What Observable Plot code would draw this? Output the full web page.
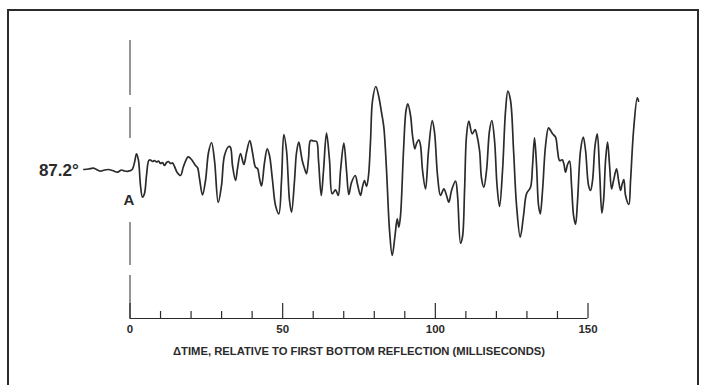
<!DOCTYPE html>
<html>
<head>
<meta charset="utf-8">
<script src="https://cdn.jsdelivr.net/npm/d3@7"></script>
<script src="https://cdn.jsdelivr.net/npm/@observablehq/plot@0.6"></script>
<style>
  html, body { margin: 0; padding: 0; background: #fff; }
  #wrap { position: relative; width: 702px; height: 385px; overflow: hidden; }
  #border { position: absolute; left: 7px; top: 9px; width: 688px; height: 390px;
            border: 2.5px solid #2b2b2b; pointer-events: none; }
  svg text { font-family: "Liberation Sans", Arial, sans-serif; font-weight: bold; }
</style>
</head>
<body>
<div id="wrap"><div id="border"></div></div>
<script>
// Time relative to first bottom reflection (ms)
const times = [-15.13,-13.59,-11.96,-10.65,-9.66,-8.35,-7.04,-5.73,-4.09,-2.78,-1.80,-0.49,
  0.72,1.47,2.13,2.78,3.44,4.09,4.75,5.40,6.16,6.71,7.37,8.02,8.68,9.34,9.99,10.65,11.30,11.96,
  12.61,13.27,13.92,14.58,15.46,16.54,17.52,19.06,20.14,21.45,22.11,22.76,23.75,24.73,25.71,
  26.70,27.68,28.89,29.97,30.95,32.36,32.92,33.57,34.56,35.21,36.19,37.28,38.16,39.24,40.12,
  41.11,41.76,42.42,43.07,44.06,44.94,45.69,46.68,47.66,48.74,49.62,50.38,51.26,52.24,52.90,
  53.88,54.54,55.29,55.85,56.40,57.16,57.81,58.47,59.12,60.11,61.09,61.74,62.63,63.38,64.36,
  65.35,66.23,67.31,68.20,68.95,70.03,70.91,71.67,72.55,73.76,74.52,75.50,76.16,76.81,77.47,
  78.12,78.78,79.43,80.51,81.40,82.38,83.13,84.02,85.00,85.88,86.80,87.52,88.05,88.60,89.58,
  90.40,90.99,91.88,92.53,93.29,93.84,94.60,95.15,95.81,96.79,97.77,98.99,99.74,100.72,101.70,
  102.79,103.67,104.42,105.31,106.62,107.27,108.26,108.91,109.57,110.22,110.97,112.09,113.07,
  113.50,114.48,115.13,115.89,116.77,117.75,118.51,119.39,120.21,121.03,122.01,123.00,123.75,
  124.63,125.62,126.60,127.81,128.89,129.87,131.18,131.84,132.49,133.15,133.80,134.36,135.11,
  136.10,137.08,137.74,138.39,139.37,140.03,140.68,141.57,142.09,142.65,143.30,143.96,144.61,
  145.27,145.92,146.58,147.56,148.45,149.20,150.18,150.84,151.49,152.31,153.03,153.79,154.54,
  155.10,155.75,156.41,157.06,157.72,158.37,159.35,160.01,160.66,161.15,161.74,162.30,163.38,
  163.94,164.92,166.14,166.56];
// Trace amplitude (relative units)
const amps = [1,1.5,2.3,0.5,-0.7,0.5,1,0,-1.7,0.5,-0.5,-0.7,
  1,8,16.7,10,-15,-26.7,-23,-5,10,10.5,9,10,8.5,9.5,7,8,5,8,
  9,7,7.5,4,-2,-5,4,13.7,11,5,3,-8,-24.5,-10,18,
  28,10,-32,-15,15,24,23,5,-10,2,17,6,18,30,18,
  3.3,2,-8,-15.5,8,21.7,15,-10,-35,-43.3,-10,36,20,-30,-41.7,
  -10,18,28.3,20,10,2,-3.3,12,30,29.5,29,10,-25,0,37.3,
  10,-23.3,-19.3,-25,0,27.3,0,-24,-12,-5,-14,-25,-16,-10,-16,
  -5,30,70,84,75,58,43.3,0,-60,-85,-65,-48.3,-56.7,-45,20,
  60,66.7,55,35,21.7,27,30.7,25,0,-18.3,20,50,38,-5,-25,
  -18.3,-25,-31.7,-20,-10.7,-25,-72.7,-66,-20,35,49.3,36.7,41,
  37,20,-8,-16.7,0,40,50,30,-15,-36,0,60,79.3,
  70,20,-35,-66.7,-45,-23.3,-16.7,5,32.7,5,-35,-43.3,-20,
  25,42.7,40,36.7,33.3,20,10,10.7,6.7,-1.7,6,9.3,-15,
  -45,-54,-30,20,33.3,20,-15,-20,-10,25,36.7,0,-42.7,
  -30,10,28.3,5,-18.3,-10,1.7,-10,-20,-14,-9,-25,-34,
  -10,40,72.7,69.3];
const majorTicks = [0, 50, 100, 150];
const minorTicks = [10, 20, 30, 40, 60, 70, 80, 90, 110, 120, 130, 140];
const traceLabel = "87.2°";
const markerLabel = "A";
const xTitle = "ΔTIME, RELATIVE TO FIRST BOTTOM REFLECTION (MILLISECONDS)";

const data = times.map((t, i) => ({t, a: amps[i]}));
const yBase = -148; // amplitude level where the time axis sits

const ink = "#2b2b2b";
const chart = Plot.plot({
  width: 702,
  height: 385,
  marginLeft: 129.5,
  marginRight: 114.5,
  marginTop: 70,
  marginBottom: 67,
  x: {domain: [0, 150], axis: null},
  y: {domain: [yBase, 100], axis: null},
  marks: [
    // dashed reference line at t = 0
    Plot.ruleX([0], {y1: 130, y2: 32, stroke: ink, strokeWidth: 1, strokeDasharray: "55,12"}),
    Plot.ruleX([0], {y1: -52, y2: yBase, stroke: ink, strokeWidth: 1, strokeDasharray: "43,10"}),
    // time axis
    Plot.ruleY([yBase], {x1: 0, x2: 150, stroke: ink, strokeWidth: 1.2}),
    Plot.ruleX(majorTicks, {y1: yBase, y2: yBase + 15, stroke: ink, strokeWidth: 1.2}),
    Plot.ruleX(minorTicks, {y1: yBase, y2: yBase + 7, stroke: ink, strokeWidth: 1.2}),
    Plot.text(majorTicks, {x: d => d, y: yBase, dy: 11, text: d => String(d), fontSize: 11.5, fill: ink, fontWeight: "bold"}),
    Plot.text([xTitle], {x: 75, y: yBase, dy: 33, text: d => d, fontSize: 11, fill: ink, fontWeight: "bold", className: "xtitle"}),
    // waveform
    Plot.line(data, {x: "t", y: "a", curve: "catmull-rom", stroke: ink, strokeWidth: 1.7}),
    Plot.text([traceLabel], {x: times[0], y: 0, dx: -5, textAnchor: "end", text: d => d, fontSize: 17, fill: ink, fontWeight: "bold"}),
    Plot.text([markerLabel], {x: 0, y: -30, dx: -1, text: d => d, fontSize: 15, fill: ink, fontWeight: "bold"})
  ]
});
document.getElementById("wrap").prepend(chart);
// stretch axis title to the reference's width
const tt = chart.querySelector(".xtitle text");
if (tt) { tt.setAttribute("textLength", 372); tt.setAttribute("lengthAdjust", "spacingAndGlyphs"); }
</script>
</body>
</html>
